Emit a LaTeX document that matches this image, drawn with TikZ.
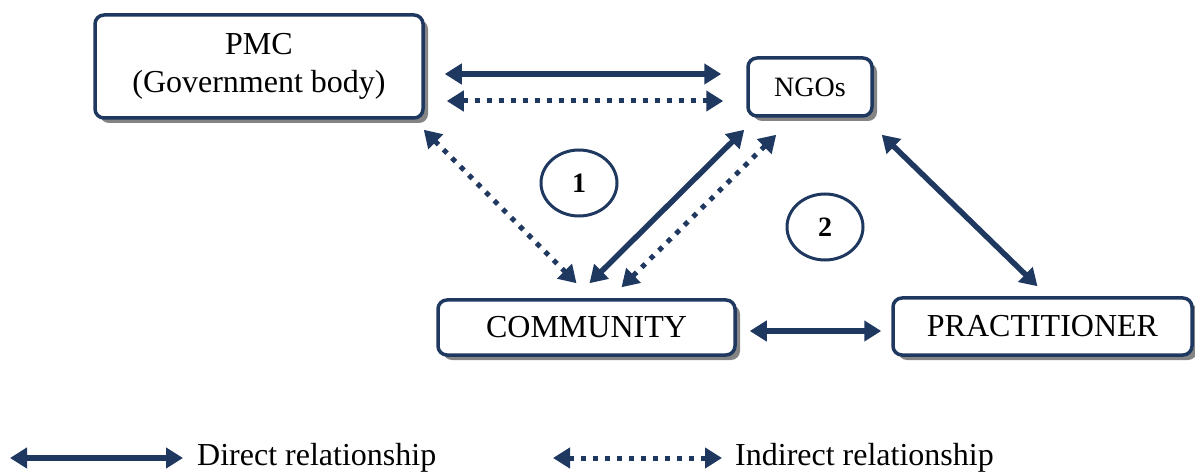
\documentclass[tikz,border=0pt]{standalone}
\usepackage{fontspec}
\setmainfont{Liberation Serif}
\usetikzlibrary{arrows.meta,shapes.geometric,shadows,calc}
\definecolor{navy}{RGB}{31,56,96}
\definecolor{shadowgray}{RGB}{132,132,132}
\tikzset{
  actor/.style={draw=navy, line width=3.5pt, rounded corners=9pt, fill=white,
    inner sep=0pt, align=center,
    drop shadow={shadow xshift=5pt, shadow yshift=-5pt, fill=shadowgray, opacity=1}},
  tipboth/.style={{Triangle[length=17pt,width=20pt]}-{Triangle[length=17pt,width=20pt]}},
  direct/.style={tipboth, draw=navy, line width=5.5pt},
  indirect/.style={tipboth, draw=navy, line width=5pt, dash pattern=on 5pt off 7pt},
  zone/.style={ellipse, draw=navy, line width=3pt, minimum width=76pt,
    minimum height=66pt, inner sep=0pt, font=\fontsize{28}{32}\selectfont\bfseries},
  legendtext/.style={anchor=base west, inner sep=0pt, font=\fontsize{32}{36}\selectfont}
}
\begin{document}
\begin{tikzpicture}[x=1pt,y=-1pt]
\useasboundingbox (0,0) rectangle (1195,473);

% organisations
\node[actor, minimum width=328pt, minimum height=103pt,
      font=\fontsize{32}{38}\selectfont] (pmc) at (259,66.5)
      {PMC\\(Government body)};
\node[actor, minimum width=124pt, minimum height=58pt,
      font=\fontsize{28}{32}\selectfont] (ngo) at (810,87) {NGOs};
\node[actor, minimum width=297pt, minimum height=55pt,
      font=\fontsize{32}{36}\selectfont] (com) at (586.5,327.5) {COMMUNITY};
\node[actor, minimum width=299pt, minimum height=57pt,
      font=\fontsize{32}{36}\selectfont] (pra) at (1042.5,326.5) {PRACTITIONER};

% zone markers
\node[zone] (z1) at (579,183) {1};
\node[zone] (z2) at (825,227) {2};

% relationships
\draw[direct]   ($(pmc.east)+(20,7.5)$)  -- ($(ngo.west)+(-25,-13)$);
\draw[indirect] ($(pmc.east)+(22,34.5)$) -- ($(ngo.west)+(-23,14)$);
\draw[indirect] ($(pmc.south east)+(-1,10)$) -- ($(com.north)+(-10,-15)$);
\draw[direct]   ($(ngo.south west)+(-2,12)$) -- ($(com.north)+(3,-15)$);
\draw[indirect] ($(ngo.south west)+(30,17)$) -- ($(com.north)+(35,-11)$);
\draw[direct]   ($(ngo.south east)+(8,17)$) -- ($(pra.north)+(-5,-10)$);
\draw[direct]   ($(com.east)+(13,3.5)$) -- ($(pra.west)+(-10,4.5)$);

% legend
\coordinate (ld1) at (10,458);
\coordinate (ld2) at (183,458);
\coordinate (li1) at (553,458);
\coordinate (li2) at (722,458);
\draw[direct] (ld1) -- (ld2);
\draw[indirect] (li1) -- (li2);
\node[legendtext] (ldt) at (197,465) {Direct relationship};
\node[legendtext] (lit) at (735,465) {Indirect relationship};
\end{tikzpicture}
\end{document}
